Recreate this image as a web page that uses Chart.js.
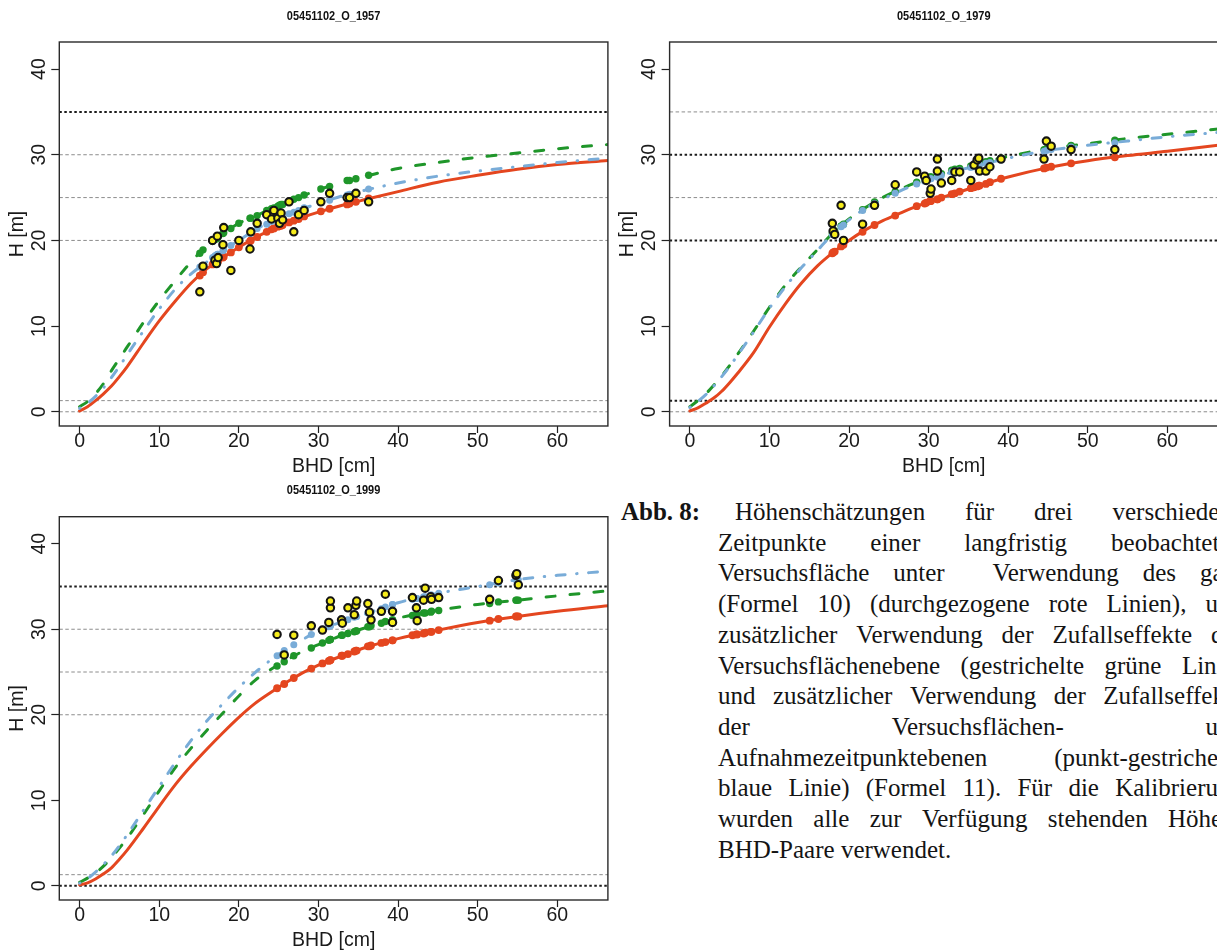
<!DOCTYPE html>
<html lang="de">
<head>
<meta charset="utf-8">
<title>Höhenschätzungen 05451102_O</title>
<script src="https://cdn.jsdelivr.net/npm/chart.js@4/dist/chart.umd.min.js"></script>
<style>
  html, body { margin: 0; padding: 0; background: #fff; }
  body { position: relative; width: 1217px; height: 951px; overflow: hidden; }
  canvas { position: absolute; }
  #c1957 { left: 0; top: 0; }
  #c1979 { left: 610px; top: 0; }
  #c1999 { left: 0; top: 475px; }
  .cap { position: absolute; font-family: 'Liberation Serif', 'Times New Roman', serif;
         font-size: 25px; line-height: 30px; color: #141414; white-space: nowrap; }
  .cap.lead { left: 621px; font-weight: bold; }
  .cap.row { display: flex; justify-content: space-between; }
</style>
</head>
<body>
<canvas id="c1957" width="614" height="478"></canvas>
<canvas id="c1979" width="614" height="478"></canvas>
<canvas id="c1999" width="614" height="477"></canvas>
<div id="caption"></div>

<script>
// axis ticks and reference heights (m)
const xTicks = [0, 10, 20, 30, 40, 50, 60];
const yTicks = [0, 10, 20, 30, 40];
const refLevels = [0, 1.3, 20, 25, 30, 35];

// BHD (cm) at which the height curves are given
const curveBhd = [0, 1, 2, 3, 4, 5, 6, 8, 10, 12, 14, 16, 18, 20, 22, 24, 26, 28, 30, 33, 36, 40, 45, 50, 55, 60, 66.4];

// --- 1957 ---
const red1957   = [0.1, 0.6, 1.3, 2.1, 3.0, 4.1, 5.3, 8.0, 10.6, 12.9, 15.0, 16.7, 18.0, 19.2, 20.3, 21.2, 22.0, 22.7, 23.3, 24.1, 24.8, 25.7, 26.8, 27.6, 28.3, 28.85, 29.33];
const green1957 = [0.6, 1.2, 2.1, 3.3, 4.8, 6.2, 7.6, 10.4, 13.0, 15.3, 17.5, 19.4, 20.8, 22.0, 22.8, 23.7, 24.4, 25.2, 25.9, 26.8, 27.5, 28.4, 29.1, 29.7, 30.2, 30.7, 31.2];
const blue1957  = [0.4, 1.0, 1.8, 2.8, 4.0, 5.3, 6.7, 9.4, 12.0, 14.3, 16.1, 17.5, 18.8, 20.0, 21.2, 22.2, 23.0, 23.7, 24.3, 25.2, 25.9, 26.7, 27.5, 28.1, 28.6, 29.1, 29.6];
const bhd1957   = [15.1, 15.5, 16.7, 17.0, 17.2, 17.3, 17.4, 18.0, 18.1, 19.0, 20.0, 21.4, 21.5, 22.3, 23.5, 24.1, 24.4, 24.9, 25.1, 25.3, 25.5, 26.3, 26.9, 27.5, 28.2, 30.3, 31.4, 33.6, 33.9, 34.7, 36.3];
const hObs1957  = [14.0, 17.0, 20.0, 17.7, 17.3, 20.5, 18.0, 19.5, 21.5, 16.5, 20.0, 19.0, 21.0, 22.0, 23.0, 22.5, 23.5, 22.6, 22.0, 23.2, 22.4, 24.5, 21.0, 23.0, 23.5, 24.5, 25.5, 25.0, 25.0, 25.5, 24.5];
const hRed1957  = [15.9, 16.3, 17.2, 17.4, 17.5, 17.5, 17.6, 18.0, 18.1, 18.6, 19.2, 19.9, 20.0, 20.4, 21.0, 21.3, 21.4, 21.6, 21.7, 21.7, 21.8, 22.1, 22.3, 22.5, 22.8, 23.4, 23.7, 24.2, 24.3, 24.5, 24.9];
const hGreen1957 = [18.5, 18.9, 19.9, 20.1, 20.2, 20.3, 20.4, 20.8, 20.9, 21.4, 22.0, 22.6, 22.6, 22.9, 23.5, 23.7, 23.8, 24.0, 24.1, 24.2, 24.2, 24.5, 24.8, 25.0, 25.3, 26.0, 26.3, 27.0, 27.0, 27.2, 27.6];
const hBlue1957 = [16.9, 17.1, 18.0, 18.2, 18.3, 18.4, 18.4, 18.8, 18.9, 19.4, 20.0, 20.8, 20.9, 21.4, 21.9, 22.2, 22.4, 22.6, 22.6, 22.7, 22.8, 23.1, 23.3, 23.5, 23.8, 24.4, 24.7, 25.3, 25.4, 25.6, 26.0];
const dark1957  = [35];

// --- 1979 ---
const red1979   = [0.1, 0.45, 1.0, 1.6, 2.4, 3.4, 4.5, 6.9, 9.9, 12.6, 15.0, 17.0, 18.6, 20.0, 21.2, 22.2, 23.0, 23.8, 24.5, 25.4, 26.3, 27.4, 28.5, 29.3, 29.9, 30.4, 31.1];
const green1979 = [0.6, 1.3, 2.1, 3.1, 4.2, 5.4, 6.7, 9.4, 12.2, 14.8, 16.9, 18.9, 20.9, 22.5, 23.8, 24.9, 25.8, 26.6, 27.3, 28.2, 28.9, 29.8, 30.7, 31.3, 31.9, 32.4, 33.0];
const blue1979  = [0.5, 1.2, 2.0, 3.0, 4.1, 5.3, 6.6, 9.3, 12.1, 14.6, 16.8, 18.8, 20.8, 22.4, 23.7, 24.7, 25.6, 26.4, 27.1, 28.0, 28.7, 29.6, 30.5, 31.1, 31.6, 32.1, 32.6];
const bhd1979   = [17.9, 18.0, 18.2, 19.0, 19.3, 21.7, 23.2, 25.8, 28.5, 29.5, 29.7, 30.2, 30.3, 31.1, 31.1, 31.6, 32.9, 33.3, 33.9, 35.3, 35.7, 36.1, 36.3, 36.4, 37.2, 37.7, 39.1, 44.5, 44.8, 45.4, 47.9, 53.4];
const hObs1979  = [22.0, 21.1, 20.7, 24.1, 20.0, 21.9, 24.1, 26.5, 28.0, 27.5, 27.0, 25.5, 26.0, 29.5, 28.1, 26.7, 27.0, 28.0, 28.0, 27.0, 28.8, 29.4, 29.6, 28.1, 28.1, 28.6, 29.5, 29.5, 31.6, 31.0, 30.6, 30.6];
const hRed1979  = [18.5, 18.6, 18.7, 19.3, 19.5, 21.0, 21.8, 22.9, 24.0, 24.3, 24.4, 24.6, 24.6, 24.8, 24.8, 25.0, 25.4, 25.5, 25.7, 26.1, 26.2, 26.3, 26.4, 26.4, 26.6, 26.8, 27.2, 28.4, 28.5, 28.6, 29.0, 29.7];
const hGreen1979 = [20.8, 20.9, 21.1, 21.7, 21.9, 23.6, 24.5, 25.7, 26.8, 27.1, 27.2, 27.4, 27.4, 27.6, 27.6, 27.8, 28.2, 28.3, 28.4, 28.7, 28.8, 28.9, 29.0, 29.0, 29.2, 29.3, 29.6, 30.6, 30.7, 30.8, 31.1, 31.7];
const hBlue1979 = [20.7, 20.8, 21.0, 21.6, 21.8, 23.5, 24.3, 25.5, 26.6, 26.9, 27.0, 27.2, 27.2, 27.4, 27.4, 27.6, 28.0, 28.1, 28.2, 28.5, 28.6, 28.7, 28.8, 28.8, 29.0, 29.1, 29.4, 30.4, 30.5, 30.6, 30.9, 31.4];
const dark1979  = [1.3, 20, 30];

// --- 1999 ---
const red1999   = [0.1, 0.35, 0.8, 1.4, 2.1, 3.1, 4.2, 6.7, 9.3, 11.8, 14.0, 16.0, 17.9, 19.7, 21.3, 22.6, 23.8, 24.9, 25.8, 26.9, 27.9, 28.9, 29.9, 30.8, 31.5, 32.1, 32.75];
const green1999 = [0.4, 0.9, 1.5, 2.3, 3.3, 4.4, 5.6, 8.3, 11.1, 13.8, 16.1, 18.2, 20.2, 22.2, 24.0, 25.3, 26.4, 27.4, 28.2, 29.3, 30.2, 31.3, 32.2, 32.9, 33.4, 33.9, 34.5];
const blue1999  = [0.3, 0.85, 1.6, 2.5, 3.5, 4.7, 6.0, 8.8, 11.6, 14.4, 17.0, 19.3, 21.3, 23.2, 24.9, 26.4, 27.7, 28.8, 29.8, 30.9, 31.8, 33.1, 34.2, 35.0, 35.8, 36.3, 36.8];
const bhd1999   = [24.8, 25.7, 26.9, 29.1, 30.5, 31.3, 31.5, 31.5, 32.9, 33.0, 33.7, 34.5, 34.7, 34.8, 36.2, 36.4, 36.6, 37.9, 38.4, 39.3, 39.3, 41.8, 42.3, 42.4, 43.2, 43.4, 44.1, 44.2, 45.1, 51.5, 52.6, 54.8, 54.9, 55.1];
const hObs1999  = [29.4, 27.0, 29.3, 30.4, 29.9, 30.8, 32.5, 33.3, 31.1, 30.7, 32.5, 31.7, 32.8, 33.3, 33.0, 32.0, 31.1, 32.1, 34.1, 32.1, 30.8, 33.7, 32.5, 31.0, 33.4, 34.8, 33.8, 33.5, 33.7, 33.5, 35.7, 36.3, 36.5, 35.2];
const hRed1999  = [23.1, 23.6, 24.3, 25.4, 26.0, 26.3, 26.4, 26.4, 26.9, 26.9, 27.1, 27.4, 27.5, 27.5, 28.0, 28.0, 28.1, 28.4, 28.5, 28.7, 28.7, 29.3, 29.4, 29.4, 29.5, 29.6, 29.7, 29.7, 29.9, 31.0, 31.2, 31.5, 31.5, 31.5];
const hGreen1999 = [25.7, 26.2, 26.9, 27.8, 28.4, 28.7, 28.8, 28.8, 29.3, 29.3, 29.5, 29.7, 29.8, 29.8, 30.3, 30.3, 30.4, 30.7, 30.9, 31.1, 31.1, 31.6, 31.7, 31.7, 31.9, 31.9, 32.0, 32.1, 32.2, 33.0, 33.2, 33.4, 33.4, 33.4];
const hBlue1999 = [26.9, 27.5, 28.2, 29.4, 30.0, 30.3, 30.4, 30.4, 30.9, 30.9, 31.1, 31.4, 31.5, 31.5, 31.9, 31.9, 32.0, 32.4, 32.6, 32.9, 32.9, 33.5, 33.6, 33.6, 33.8, 33.8, 34.0, 34.0, 34.2, 35.2, 35.4, 35.8, 35.8, 35.8];
const dark1999  = [0, 35];

// caption (a double space widens that gap)
const captionLead = 'Abb. 8:';
const captionLines = [
  'Höhenschätzungen für drei verschiedene',
  'Zeitpunkte einer langfristig beobachteten',
  'Versuchsfläche unter  Verwendung des gam',
  '(Formel 10) (durchgezogene rote Linien), und',
  'zusätzlicher Verwendung der Zufallseffekte der',
  'Versuchsflächenebene (gestrichelte grüne Linie)',
  'und zusätzlicher Verwendung der Zufallseffekte',
  'der Versuchsflächen- und',
  'Aufnahmezeitpunktebenen (punkt-gestrichelte',
  'blaue Linie) (Formel 11). Für die Kalibrierung',
  'wurden alle zur Verfügung stehenden Höhen-',
  'BHD-Paare verwendet.'
];

const X_MIN = -2.55, X_MAX = 66.35;
const Y_MIN = -1.66, Y_MAX = 43.16;
const RED = '#e4461f', GREEN = '#1f962a', BLUE = '#79acd8', YELLOW = '#f6ec1b';
const INK = '#1a1a1a';

Chart.defaults.font.family = "'Liberation Sans', Arial, sans-serif";
Chart.defaults.color = INK;

// small condensed bold heading above each plot region
const panelTitle = {
  id: 'panelTitle',
  afterDraw(chart, args, opts) {
    const { ctx, chartArea: a } = chart;
    ctx.save();
    ctx.translate((a.left + a.right) / 2, a.top - 26);
    ctx.scale(0.845, 1);
    ctx.font = "bold 13px 'Liberation Sans', sans-serif";
    ctx.fillStyle = '#111';
    ctx.textAlign = 'center';
    ctx.textBaseline = 'middle';
    ctx.fillText(opts.text, 0, 0);
    ctx.restore();
  }
};

// frame around the plot region
const plotBox = {
  id: 'plotBox',
  afterDatasetsDraw(chart) {
    const { ctx, chartArea: a } = chart;
    ctx.save();
    ctx.strokeStyle = '#2a2a2a';
    ctx.lineWidth = 1.4;
    ctx.strokeRect(a.left, a.top, a.right - a.left, a.bottom - a.top);
    ctx.restore();
  }
};

function curve(values, color, dash) {
  return {
    data: curveBhd.map((x, i) => ({ x, y: values[i] })),
    showLine: true, pointRadius: 0, borderColor: color, borderWidth: 3,
    borderDash: dash, borderCapStyle: 'round', cubicInterpolationMode: 'monotone'
  };
}

function dots(bhd, values, color, r) {
  return {
    data: bhd.map((x, i) => ({ x, y: values[i] })),
    pointRadius: r, pointBackgroundColor: color, pointBorderColor: color, pointBorderWidth: 0
  };
}

function refLine(h, dark) {
  return {
    data: [{ x: X_MIN, y: h }, { x: X_MAX, y: h }],
    showLine: true, pointRadius: 0,
    borderColor: dark ? '#1c1c1c' : '#8c8c8c',
    borderWidth: dark ? 2 : 1,
    borderDash: dark ? [2.5, 2.5] : [3.5, 2.5]
  };
}

function drawPanel(id, title, red, green, blue, bhd, hObs, hRed, hGreen, hBlue, dark, top, yWidth) {
  const datasets = [
    {
      data: bhd.map((x, i) => ({ x, y: hObs[i] })),
      pointRadius: 3.7, pointBackgroundColor: YELLOW, pointBorderColor: '#141414', pointBorderWidth: 2.1
    },
    dots(bhd, hBlue, BLUE, 3.5),
    dots(bhd, hGreen, GREEN, 3.7),
    dots(bhd, hRed, RED, 3.9),
    curve(blue, BLUE, [0.5, 11.5, 9, 11.5]),
    curve(green, GREEN, [9, 15]),
    curve(red, RED, []),
    ...refLevels.map(h => refLine(h, dark.includes(h)))
  ];

  const tickFont = { size: 19.5, lineHeight: 1 };
  const titleFont = { size: 19.5, lineHeight: 1.2 };

  new Chart(document.getElementById(id), {
    type: 'scatter',
    data: { datasets },
    plugins: [panelTitle, plotBox],
    options: {
      responsive: false,
      animation: false,
      events: [],
      layout: { padding: { left: 0, right: 4, top: top, bottom: 0 } },
      plugins: {
        legend: { display: false },
        tooltip: { enabled: false },
        panelTitle: { text: title }
      },
      scales: {
        x: {
          type: 'linear', min: X_MIN, max: X_MAX,
          afterBuildTicks: s => { s.ticks = xTicks.map(v => ({ value: v })); },
          afterFit: s => { s.height = 52; },
          grid: { drawOnChartArea: false, tickLength: 7, tickWidth: 1.2, tickColor: '#222' },
          border: { display: false },
          ticks: { padding: -1, maxRotation: 0, autoSkip: false, font: tickFont, color: INK },
          title: { display: true, text: 'BHD [cm]', padding: 0, font: titleFont, color: INK }
        },
        y: {
          type: 'linear', min: Y_MIN, max: Y_MAX,
          afterBuildTicks: s => { s.ticks = yTicks.map(v => ({ value: v })); },
          afterFit: s => { s.width = yWidth; },
          grid: { drawOnChartArea: false, tickLength: 8, tickWidth: 1.2, tickColor: '#222' },
          border: { display: false },
          ticks: { minRotation: 90, maxRotation: 90, crossAlign: 'center', padding: 1, font: { size: 19.5 }, color: INK },
          title: { display: true, text: 'H [m]', padding: { top: 6.4, bottom: 0 }, font: titleFont, color: INK }
        }
      }
    }
  });
}

drawPanel('c1957', '05451102_O_1957', red1957, green1957, blue1957,
  bhd1957, hObs1957, hRed1957, hGreen1957, hBlue1957, dark1957, 42, 59.3);
drawPanel('c1979', '05451102_O_1979', red1979, green1979, blue1979,
  bhd1979, hObs1979, hRed1979, hGreen1979, hBlue1979, dark1979, 42, 59.6);
drawPanel('c1999', '05451102_O_1999', red1999, green1999, blue1999,
  bhd1999, hObs1999, hRed1999, hGreen1999, hBlue1999, dark1999, 41.7, 59.3);

// figure caption, one justified row per printed line
const capBox = document.getElementById('caption');
const firstRowTop = 497, rowStep = 30.7;
const lead = document.createElement('div');
lead.className = 'cap lead';
lead.style.top = firstRowTop + 'px';
lead.textContent = captionLead;
capBox.appendChild(lead);
captionLines.forEach((text, k) => {
  const row = document.createElement('div');
  const last = k === captionLines.length - 1;
  row.className = last ? 'cap' : 'cap row';
  row.style.top = (firstRowTop + k * rowStep) + 'px';
  row.style.left = (k === 0 ? 735 : 718) + 'px';
  if (!last) row.style.width = (k === 0 ? 508 : 525) + 'px';
  if (last) {
    row.textContent = text;
  } else {
    text.split(' ').forEach(w => {
      const s = document.createElement('span');
      s.textContent = w;
      row.appendChild(s);
    });
  }
  capBox.appendChild(row);
});
</script>
</body>
</html>
